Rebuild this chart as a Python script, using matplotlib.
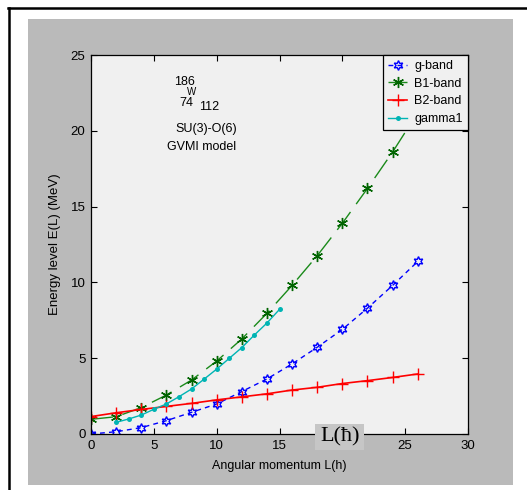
import matplotlib
matplotlib.use("Agg")
import matplotlib.pyplot as plt
from matplotlib.patches import Rectangle
from matplotlib.lines import Line2D

plt.rcParams['font.family'] = ['Liberation Sans', 'DejaVu Sans']

# Angular momentum values and energy levels (MeV)
L_even = [0, 2, 4, 6, 8, 10, 12, 14, 16, 18, 20, 22, 24, 26]
g_band = [0.0, 0.15, 0.42, 0.88, 1.43, 1.98, 2.8, 3.63, 4.62, 5.72, 6.9, 8.3, 9.8, 11.38]
b1_band = [0.97, 1.14, 1.74, 2.57, 3.56, 4.81, 6.27, 7.96, 9.8, 11.76, 13.9, 16.2, 18.6, 21.2]
b2_band = [1.15, 1.4, 1.62, 1.82, 2.02, 2.25, 2.45, 2.65, 2.9, 3.08, 3.33, 3.52, 3.73, 3.96]
L_gamma = [2, 3, 4, 5, 6, 7, 8, 9, 10, 11, 12, 13, 14, 15]
gamma1 = [0.77, 0.99, 1.25, 1.63, 1.98, 2.46, 2.97, 3.62, 4.28, 4.99, 5.7, 6.53, 7.32, 8.22]

x_ticks = [0, 5, 10, 15, 20, 25, 30]
y_ticks = [0, 5, 10, 15, 20, 25]

W, H = 527, 490
fig = plt.figure(figsize=(W / 100, H / 100), dpi=100)
fig.patch.set_facecolor('white')

def fx(px):
    return px / W

def fy(py):
    return 1 - py / H

# window frame and grey figure panel
fig.add_artist(Line2D([fx(9), fx(9)], [fy(8), 0], color='black', lw=1.8,
                      transform=fig.transFigure))
fig.add_artist(Line2D([fx(8), 1], [fy(8.5), fy(8.5)], color='black', lw=1.8,
                      transform=fig.transFigure))
fig.add_artist(Rectangle((fx(28), fy(485)), fx(513) - fx(28), fy(19) - fy(485),
                         transform=fig.transFigure, facecolor='#bababa',
                         edgecolor='none', zorder=0))

ax = fig.add_axes([fx(91), fy(434), fx(468) - fx(91), fy(55) - fy(434)])
ax.set_facecolor('#f0f0f0')

ax.plot(L_even, g_band, color='#0000ff', linestyle=(0, (3.5, 3)), lw=1.0,
        marker=(6, 1, 0), markersize=7, markerfacecolor='none',
        markeredgecolor='#0000ff', markeredgewidth=1.0, label='g-band')
ax.plot(L_even, b1_band, color='#1a8a1a', linestyle=(0, (16, 7)), lw=1.0,
        marker=(6, 2, 0), markersize=8, markeredgewidth=1.0,
        markeredgecolor='#006400', label='B1-band')
ax.plot(L_even, b2_band, color='#ff0000', linestyle='-', lw=1.2,
        marker='+', markersize=9, markeredgewidth=1.0, label='B2-band')
ax.plot(L_gamma, gamma1, color='#00b4b4', linestyle='-', lw=1.0,
        marker='o', markersize=3.6, markeredgewidth=0, label='gamma1')

ax.set_xlim(0, 30)
ax.set_ylim(0, 25)
ax.set_xticks(x_ticks)
ax.set_yticks(y_ticks)
ax.tick_params(direction='in', length=4, width=0.8, top=True, right=True,
               labelsize=9.5, colors='black', pad=4)
for s in ax.spines.values():
    s.set_linewidth(0.9)
    s.set_color('black')

ax.set_xlabel('Angular momentum L(h)', fontsize=9, labelpad=6)
ax.set_ylabel('Energy level E(L) (MeV)', fontsize=9.5, labelpad=7)

leg = ax.legend(loc='upper right', bbox_to_anchor=(1, 1), borderaxespad=0,
                fontsize=9, handlelength=1.5, handletextpad=0.6,
                labelspacing=0.45, borderpad=0.4, fancybox=False,
                framealpha=1, edgecolor='black', facecolor='#f0f0f0')
leg.get_frame().set_linewidth(0.9)

# nucleus label
ax.text(7.42, 23.2, '186', fontsize=9, ha='center', va='center')
ax.text(8.0, 22.55, 'W', fontsize=7, ha='center', va='center')
ax.text(7.55, 21.82, '74', fontsize=9, ha='center', va='center')
ax.text(9.4, 21.55, '112', fontsize=9, ha='center', va='center')
ax.text(9.18, 20.12, 'SU(3)-O(6)', fontsize=9, ha='center', va='center')
ax.text(8.78, 18.93, 'GVMI model', fontsize=9, ha='center', va='center')

# unit box over the axis
fig.add_artist(Rectangle((fx(315), fy(450)), fx(364) - fx(315), fy(424) - fy(450),
                         transform=fig.transFigure, facecolor='#c6c6c6',
                         edgecolor='none', zorder=10))
fig.text(fx(340), fy(437), 'L(ħ)', fontsize=16, family=['Liberation Serif', 'DejaVu Serif'],
         ha='center', va='center', zorder=11)

fig.savefig('out.png', dpi=100)
